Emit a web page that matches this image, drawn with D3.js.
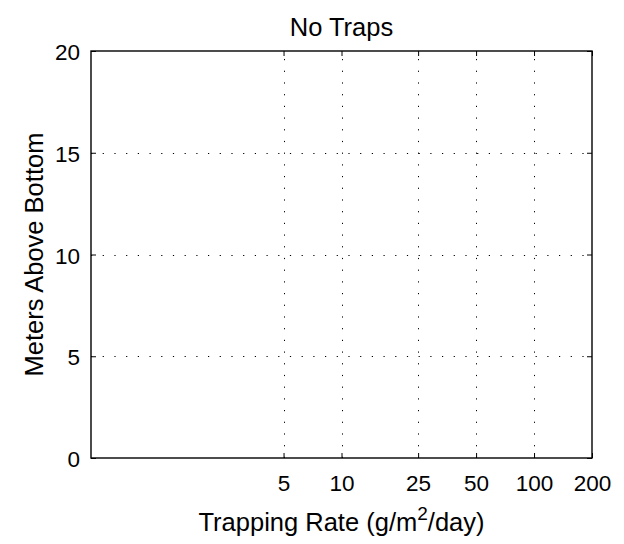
<!DOCTYPE html>
<html>
<head>
<meta charset="utf-8">
<script src="https://cdn.jsdelivr.net/npm/d3@7"></script>
<style>
  html, body { margin: 0; padding: 0; background: #fff; }
  svg text { font-family: "Liberation Sans", Arial, Helvetica, sans-serif; fill: #000; }
</style>
</head>
<body>
<svg id="chart" width="624" height="544"></svg>
<script>
// ---- data ----
const title = "No Traps";
const xTickValues = [5, 10, 25, 50, 100, 200];
const yTickValues = [0, 5, 10, 15, 20];
const xDomain = [0.5, 200];
const yDomain = [0, 20];
const seriesDepth = [];   // no traps: no data plotted
const seriesRate = [];

// ---- layout ----
const W = 624, H = 544;
const m = { left: 91, right: 592, top: 51, bottom: 458 };
const svg = d3.select("#chart");

const x = d3.scaleLog().domain(xDomain).range([m.left, m.right]);
const y = d3.scaleLinear().domain(yDomain).range([m.bottom, m.top]);

const fsTick = 22.5;
const fsLabel = 25.5;
const tickLen = 5;

// white background of axes
svg.append("rect").attr("x", m.left).attr("y", m.top)
  .attr("width", m.right - m.left).attr("height", m.bottom - m.top)
  .attr("fill", "#fff");

// grid lines (dotted)
const dash = "1.2,10.5";
svg.append("g").selectAll("line")
  .data(xTickValues.filter(v => x(v) > m.left + 2 && x(v) < m.right - 2))
  .join("line")
  .attr("x1", d => Math.round(x(d)) + 0.5).attr("x2", d => Math.round(x(d)) + 0.5)
  .attr("y1", m.bottom).attr("y2", m.top)
  .attr("stroke", "#000").attr("stroke-width", 1).attr("stroke-dasharray", dash);
svg.append("g").selectAll("line")
  .data(yTickValues.filter(v => y(v) < m.bottom - 2 && y(v) > m.top + 2))
  .join("line")
  .attr("x1", m.left).attr("x2", m.right)
  .attr("y1", d => Math.round(y(d)) + 0.5).attr("y2", d => Math.round(y(d)) + 0.5)
  .attr("stroke", "#000").attr("stroke-width", 1).attr("stroke-dasharray", dash);

// data line (empty)
svg.append("path").datum(d3.zip(seriesRate, seriesDepth))
  .attr("fill", "none").attr("stroke", "#00f")
  .attr("d", d3.line().x(d => x(d[0])).y(d => y(d[1])));

// axes using d3 axis generators (ticks inward)
const fmt = d => String(d);
const axB = svg.append("g").attr("transform", `translate(0,${m.bottom})`)
  .call(d3.axisBottom(x).tickValues(xTickValues).tickFormat(fmt)
    .tickSizeInner(-tickLen).tickSizeOuter(0).tickPadding(17));
const axT = svg.append("g").attr("transform", `translate(0,${m.top})`)
  .call(d3.axisTop(x).tickValues(xTickValues).tickFormat("")
    .tickSizeInner(-tickLen).tickSizeOuter(0));
const axL = svg.append("g").attr("transform", `translate(${m.left},0)`)
  .call(d3.axisLeft(y).tickValues(yTickValues).tickFormat(fmt)
    .tickSizeInner(-tickLen).tickSizeOuter(0).tickPadding(11));
const axR = svg.append("g").attr("transform", `translate(${m.right},0)`)
  .call(d3.axisRight(y).tickValues(yTickValues).tickFormat("")
    .tickSizeInner(-tickLen).tickSizeOuter(0));

[axB, axT, axL, axR].forEach(g => {
  g.select(".domain").remove();
  g.selectAll(".tick line").attr("stroke", "#000").attr("stroke-width", 1);
  g.selectAll("text").attr("font-size", fsTick)
    .attr("font-family", '"Liberation Sans", Arial, sans-serif').attr("fill", "#000");
});
axL.selectAll("text").attr("dy", "0.38em");

// frame
svg.append("rect").attr("x", m.left).attr("y", m.top)
  .attr("width", m.right - m.left).attr("height", m.bottom - m.top)
  .attr("fill", "none").attr("stroke", "#000").attr("stroke-width", 1.4);

// title
svg.append("text").attr("x", (m.left + m.right) / 2).attr("y", 36)
  .attr("text-anchor", "middle").attr("font-size", fsLabel).text(title);

// x label with superscript
const xl = svg.append("text").attr("x", (m.left + m.right) / 2).attr("y", 531)
  .attr("text-anchor", "middle").attr("font-size", fsLabel);
xl.append("tspan").text("Trapping Rate (g/m");
xl.append("tspan").attr("dy", -11).attr("font-size", 19).text("2");
xl.append("tspan").attr("dy", 11).text("/day)");

// y label
svg.append("text")
  .attr("transform", `translate(43,${(m.top + m.bottom) / 2}) rotate(-90)`)
  .attr("text-anchor", "middle").attr("font-size", fsLabel).text("Meters Above Bottom");
</script>
</body>
</html>
